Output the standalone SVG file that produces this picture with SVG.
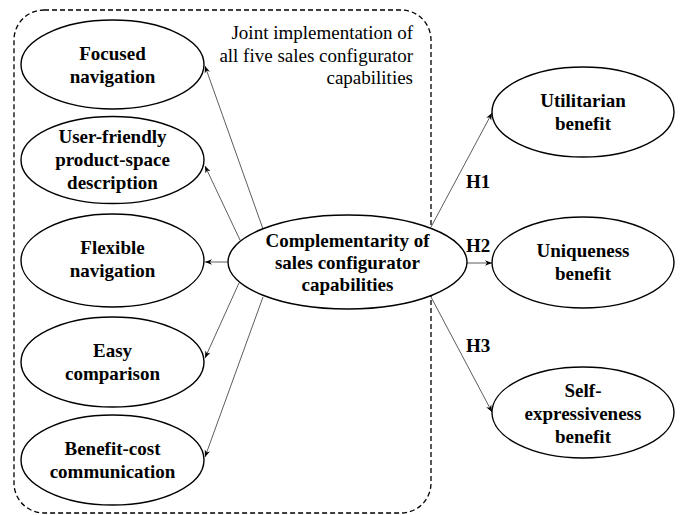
<svg xmlns="http://www.w3.org/2000/svg" width="681" height="515" viewBox="0 0 681 515">
<style>
.n ellipse{fill:#fff;stroke:#000;stroke-width:1.4}
.n text{font-family:"Liberation Serif","Times New Roman",serif;font-weight:bold;font-size:19px;text-anchor:middle;fill:#000}
.lbl{font-family:"Liberation Serif","Times New Roman",serif;font-size:19px;fill:#000}
.h{font-family:"Liberation Serif","Times New Roman",serif;font-weight:bold;font-size:19px;fill:#000}
.c line{stroke:#333;stroke-width:0.8;marker-end:url(#ah)}
</style>
<defs>
<marker id="ah" viewBox="0 0 10 10" refX="10" refY="5" markerWidth="7" markerHeight="7" markerUnits="userSpaceOnUse" orient="auto">
<path d="M0,1 L10,5 L0,9 L3,5 Z" fill="#000"/>
</marker>
</defs>
<rect id="group-box" x="14" y="10" width="417" height="503" rx="30" ry="30" fill="none" stroke="#000" stroke-width="1.3" stroke-dasharray="5,3"/>
<text class="lbl" text-anchor="end"><tspan x="413" y="39">Joint implementation of</tspan><tspan x="413" y="61.5">all five sales configurator</tspan><tspan x="413" y="84">capabilities</tspan></text>
<g class="c" id="connectors">
<line x1="263" y1="229" x2="205" y2="66"/>
<line x1="240" y1="240" x2="205" y2="166"/>
<line x1="228" y1="262" x2="205" y2="262"/>
<line x1="239" y1="283" x2="205" y2="358"/>
<line x1="263" y1="297" x2="205" y2="457"/>
<line x1="431" y1="227" x2="492" y2="113"/>
<line x1="467" y1="263" x2="492" y2="263"/>
<line x1="431" y1="297" x2="492" y2="412"/>
</g>
<text class="h" x="466" y="188">H1</text>
<text class="h" x="466" y="252">H2</text>
<text class="h" x="466" y="352">H3</text>
<g class="n" id="focused">
<ellipse cx="112.5" cy="64.5" rx="91.5" ry="44.5"/>
<text><tspan x="112.5" y="59.5">Focused</tspan><tspan x="112.5" y="82.5">navigation</tspan></text>
</g>
<g class="n" id="userfriendly">
<ellipse cx="112.5" cy="160" rx="91.5" ry="43.5"/>
<text><tspan x="112.5" y="143">User-friendly</tspan><tspan x="112.5" y="166">product-space</tspan><tspan x="112.5" y="189">description</tspan></text>
</g>
<g class="n" id="flexible">
<ellipse cx="112.5" cy="260.5" rx="91.5" ry="46.5"/>
<text><tspan x="112.5" y="254">Flexible</tspan><tspan x="112.5" y="277">navigation</tspan></text>
</g>
<g class="n" id="easy">
<ellipse cx="112.5" cy="362" rx="91.5" ry="45"/>
<text><tspan x="112.5" y="357">Easy</tspan><tspan x="112.5" y="380">comparison</tspan></text>
</g>
<g class="n" id="benefitcost">
<ellipse cx="112.5" cy="460" rx="91.5" ry="45"/>
<text><tspan x="112.5" y="455">Benefit-cost</tspan><tspan x="112.5" y="478">communication</tspan></text>
</g>
<g class="n" id="complementarity">
<ellipse cx="347.5" cy="262" rx="119.5" ry="47"/>
<text><tspan x="347.5" y="247">Complementarity of</tspan><tspan x="347.5" y="269">sales configurator</tspan><tspan x="347.5" y="291">capabilities</tspan></text>
</g>
<g class="n" id="utilitarian">
<ellipse cx="583" cy="112" rx="91" ry="45"/>
<text><tspan x="583" y="107">Utilitarian</tspan><tspan x="583" y="130">benefit</tspan></text>
</g>
<g class="n" id="uniqueness">
<ellipse cx="583" cy="262.5" rx="91" ry="45.5"/>
<text><tspan x="583" y="257">Uniqueness</tspan><tspan x="583" y="280">benefit</tspan></text>
</g>
<g class="n" id="selfexpressive">
<ellipse cx="583" cy="412.5" rx="91" ry="45.5"/>
<text><tspan x="583" y="397">Self-</tspan><tspan x="583" y="420">expressiveness</tspan><tspan x="583" y="443">benefit</tspan></text>
</g>
</svg>
